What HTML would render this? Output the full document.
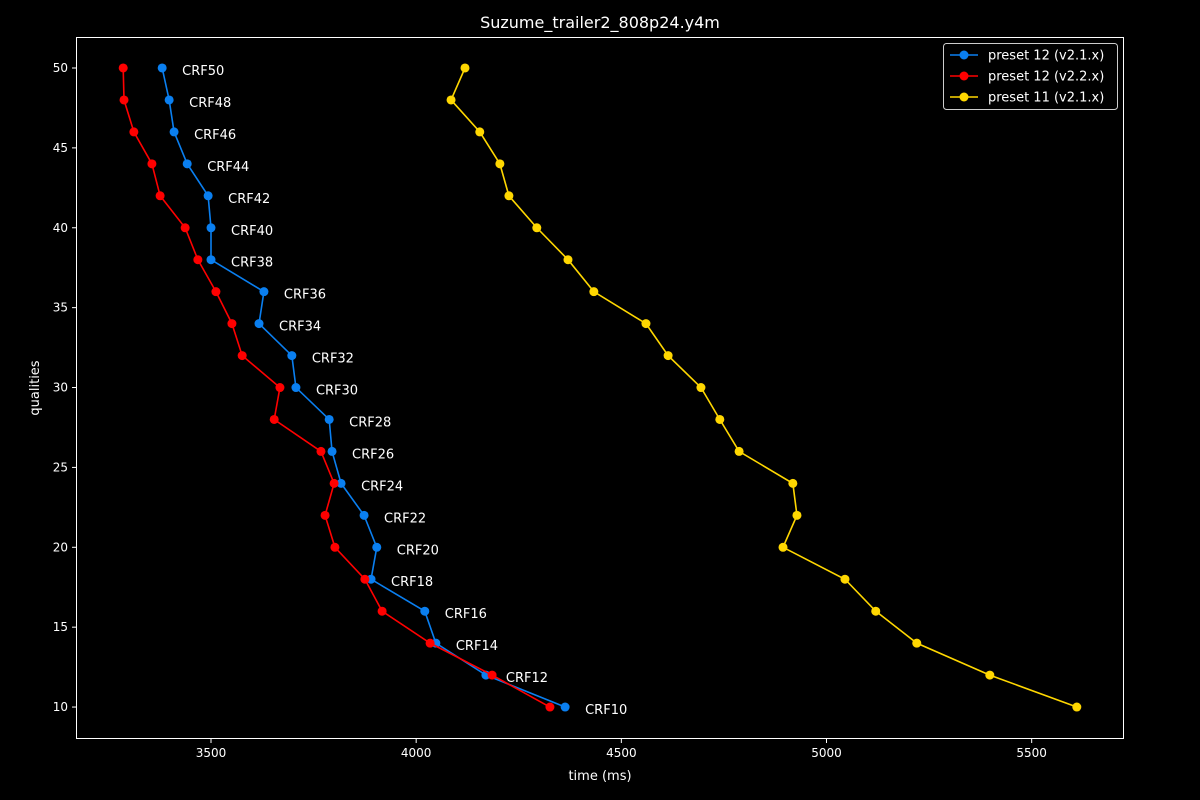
<!DOCTYPE html>
<html><head><meta charset="utf-8"><style>
html,body{margin:0;padding:0;background:#000;}
svg{display:block;font-family:"DejaVu Sans","Liberation Sans",sans-serif;}
</style></head><body>
<svg id="chart" width="1200" height="800" xmlns="http://www.w3.org/2000/svg">
<rect width="1200" height="800" fill="#000"/>
<text x="600" y="28" fill="#fff" font-size="16" text-anchor="middle">Suzume_trailer2_808p24.y4m</text>
<g id="axes"></g>
<g id="series"></g>
<g id="legend">
<rect x="943.5" y="43.5" width="174" height="66" rx="3" fill="#000" stroke="#ccc"/>
</g>
</svg>
<script>
const qualities=[50,48,46,44,42,40,38,36,34,32,30,28,26,24,22,20,18,16,14,12,10];
const blueTimes=[3381,3398,3410,3442,3493,3500,3500,3629,3617,3697,3707,3788,3795,3817,3873,3904,3890,4021,4048,4170,4363];
const redTimes=[3286,3288,3312,3356,3376,3437,3468,3512,3551,3576,3668,3654,3768,3800,3778,3802,3875,3917,4034,4185,4326];
const yellowTimes=[4119,4085,4155,4204,4226,4294,4370,4433,4560,4614,4694,4740,4787,4918,4928,4894,5045,5120,5220,5398,5610];
const xTicks=[3500,4000,4500,5000,5500];
const yTicks=[10,15,20,25,30,35,40,45,50];
const seriesNames=["preset 12 (v2.1.x)","preset 12 (v2.2.x)","preset 11 (v2.1.x)"];

const L=76,R=1124,T=37,B=739;
const xMin=3171,xMax=5725,yMin=8.0,yMax=51.94;
const sx=v=>L+(v-xMin)/(xMax-xMin)*(R-L);
const sy=v=>B-(v-yMin)/(yMax-yMin)*(B-T);
const NS="http://www.w3.org/2000/svg";
function mk(tag,attrs,parent){const e=document.createElementNS(NS,tag);for(const k in attrs)e.setAttribute(k,attrs[k]);parent.appendChild(e);return e;}
const axes=document.getElementById('axes');
const frame=mk('rect',{x:L+0.5,y:T+0.5,width:R-L-1,height:B-T-1,fill:'none',stroke:'#fff','stroke-width':1},axes);


xTicks.forEach(v=>{const x=sx(v);
 const t=mk('line',{x1:x,x2:x,y1:B,y2:B+4,stroke:'#fff'},axes);
 
 
 const l=mk('text',{x:x,y:B+18,fill:'#fff','font-size':12,'text-anchor':'middle'},axes);l.textContent=v;
 
 });
yTicks.forEach(v=>{const y=sy(v);
 const t=mk('line',{x1:L-4,x2:L,y1:y,y2:y,stroke:'#fff'},axes);
 
 
 const l=mk('text',{x:L-8,y:y+4,fill:'#fff','font-size':12,'text-anchor':'end'},axes);l.textContent=v;
 
 });
const xt=mk('text',{x:600,y:780,fill:'#fff','font-size':13,'text-anchor':'middle'},axes);xt.textContent='time (ms)';


const yt=mk('text',{x:0,y:0,fill:'#fff','font-size':13,'text-anchor':'middle',transform:'translate(39,388) rotate(-90)'},axes);yt.textContent='qualities';



const sg=document.getElementById('series');
const colors=['#0a7ff0','#ff0000','#ffd700'];
[blueTimes,redTimes,yellowTimes].forEach((arr,si)=>{
 const g=mk('g',{},sg);
 
 
 const pts=arr.map((v,i)=>sx(v)+','+sy(qualities[i])).join(' ');
 const pl=mk('polyline',{points:pts,fill:'none',stroke:colors[si],'stroke-width':1.6},g);
 
 
 arr.forEach((v,i)=>{const c=mk('circle',{cx:sx(v),cy:sy(qualities[i]),r:4.5,fill:colors[si]},g);
  
  });
});
blueTimes.forEach((v,i)=>{const l=mk('text',{x:sx(v)+20,y:sy(qualities[i])+7,fill:'#fff','font-size':13},sg);
 l.textContent='CRF'+qualities[i];
 
 });

const lg=document.getElementById('legend');
seriesNames.forEach((n,i)=>{const y=55+i*21;
 const ln=mk('line',{x1:950,x2:978,y1:y,y2:y,stroke:colors[i],'stroke-width':1.6},lg);
 
 
 const c=mk('circle',{cx:964,cy:y,r:4.5,fill:colors[i]},lg);
 
 
 const t=mk('text',{x:988,y:y+4.5,fill:'#fff','font-size':13},lg);t.textContent=n;
 
 });
</script>
</body></html>
